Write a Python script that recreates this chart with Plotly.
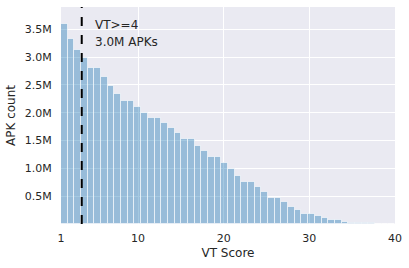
import plotly.graph_objects as go

# Histogram: 50 bins spanning VT Score 1..40
bin_start = 1.0
bin_end = 40.0
n_bins = 50
counts_m = [3.60, 3.32, 3.13, 2.98, 2.80, 2.80, 2.64, 2.48, 2.33, 2.21,
            2.21, 2.10, 2.00, 1.90, 1.90, 1.81, 1.72, 1.63, 1.52, 1.52,
            1.41, 1.31, 1.20, 1.20, 1.09, 0.98, 0.87, 0.76, 0.76, 0.66,
            0.57, 0.46, 0.46, 0.39, 0.30, 0.25, 0.18, 0.18, 0.14, 0.11,
            0.063, 0.063, 0.045, 0.027, 0.012, 0.012, 0.010, 0.0, 0.0, 0.0]
threshold_x = 3.42
annot_lines = ["VT>=4", "3.0M APKs"]
x_ticks = [1, 10, 20, 30, 40]
y_ticks = [0.5e6, 1.0e6, 1.5e6, 2.0e6, 2.5e6, 3.0e6, 3.5e6]
y_ticklabels = ["0.5M", "1.0M", "1.5M", "2.0M", "2.5M", "3.0M", "3.5M"]

bw = (bin_end - bin_start) / n_bins
centers = [bin_start + bw * (i + 0.5) for i in range(n_bins)]
counts = [c * 1e6 for c in counts_m]

fig = go.Figure()
fig.add_trace(go.Bar(
    x=centers, y=counts, width=bw,
    marker=dict(color="rgba(31,119,180,0.4)",
                line=dict(color="rgba(255,255,255,0.6)", width=1)),
    hoverinfo="skip",
))

fig.add_shape(type="line", x0=threshold_x, x1=threshold_x, y0=0, y1=1,
              xref="x", yref="paper",
              line=dict(color="black", width=2, dash="dash"))

fig.add_annotation(x=4.75, y=3.57e6, text=annot_lines[0], showarrow=False,
                   xanchor="left", yanchor="middle",
                   font=dict(size=12, color="#262626"))
fig.add_annotation(x=4.75, y=3.28e6, text=annot_lines[1], showarrow=False,
                   xanchor="left", yanchor="middle",
                   font=dict(size=12, color="#262626"))

fig.update_layout(
    width=409, height=268,
    margin=dict(l=61, r=14, t=7, b=44, pad=0),
    paper_bgcolor="white", plot_bgcolor="#EAEAF2",
    font=dict(family="DejaVu Sans", size=11, color="#262626"),
    showlegend=False, bargap=0,
)
fig.update_xaxes(range=[bin_start, bin_end], tickvals=x_ticks,
                 ticktext=[str(t) for t in x_ticks], automargin=False,
                 showgrid=True, gridcolor="white", gridwidth=1,
                 zeroline=False, showline=False,
                 ticks="outside", ticklen=4, tickcolor="rgba(0,0,0,0)",
                 tickfont=dict(size=11),
                 title=dict(text="VT Score", font=dict(size=12), standoff=4))
fig.update_yaxes(range=[0, 3.9e6], tickvals=y_ticks, ticktext=y_ticklabels,
                 automargin=False,
                 showgrid=True, gridcolor="white", gridwidth=1,
                 zeroline=False, showline=False,
                 ticks="outside", ticklen=6, tickcolor="rgba(0,0,0,0)",
                 tickfont=dict(size=11),
                 title=dict(text="APK count", font=dict(size=12), standoff=6))

fig.write_html("out.html", config={"displayModeBar": False},
               post_script="document.body.style.margin='0';document.body.style.overflow='hidden';")
